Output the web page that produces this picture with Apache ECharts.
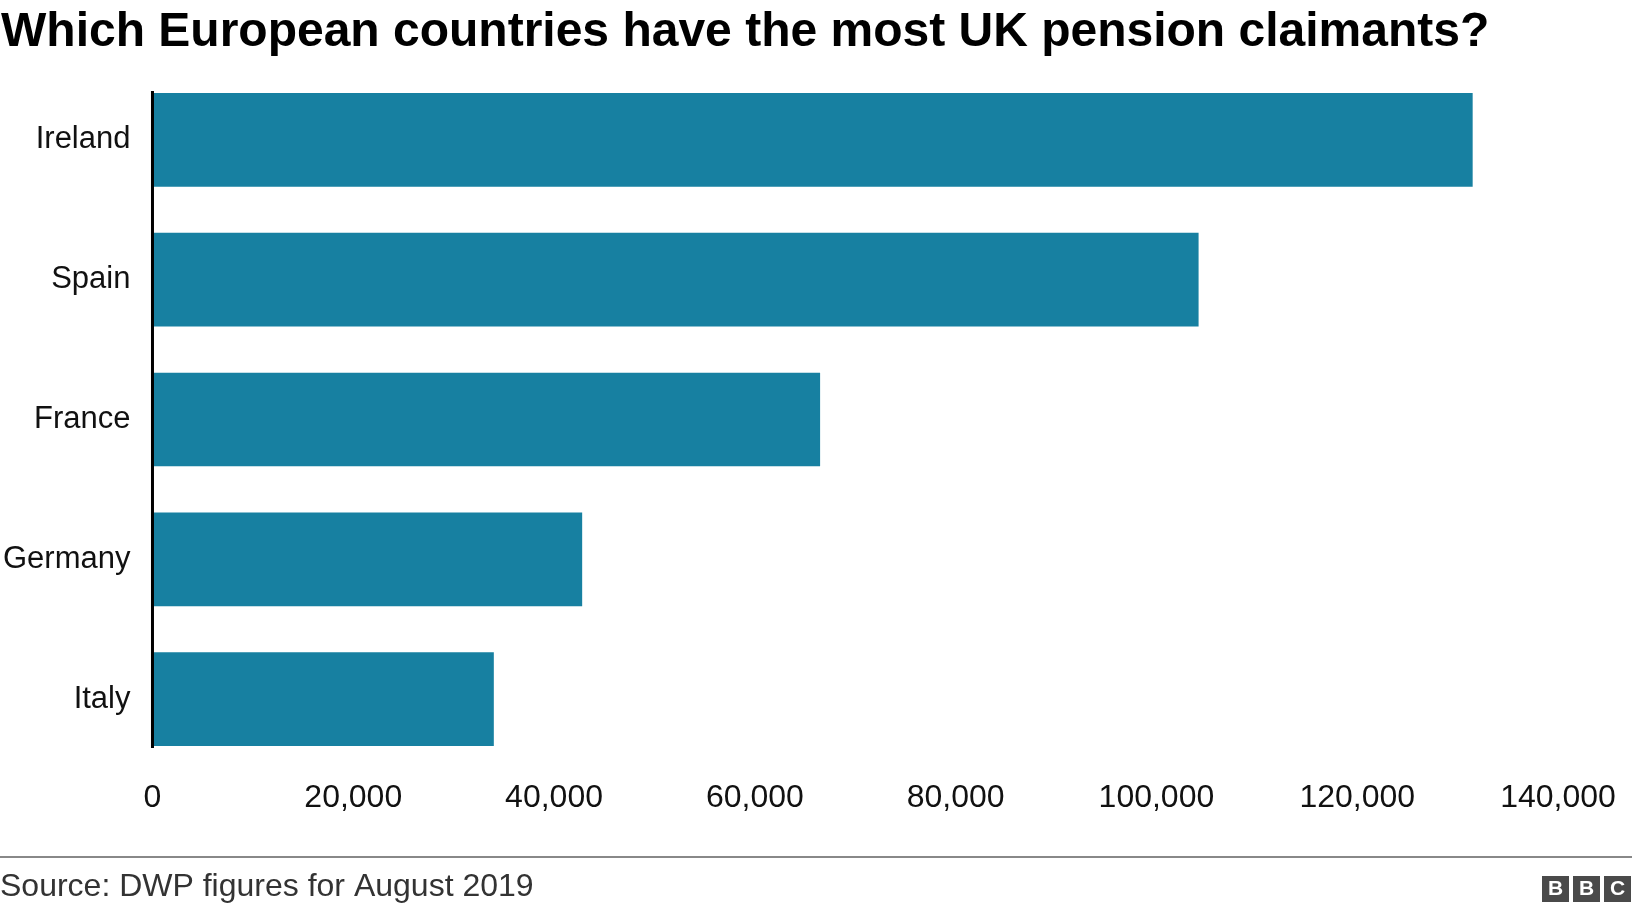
<!DOCTYPE html><html><head><meta charset="utf-8">
<script src="https://cdn.jsdelivr.net/npm/echarts@6/dist/echarts.min.js"></script>
<style>html,body{margin:0;padding:0;background:#fff}#c{width:1632px;height:912px}</style></head><body><div id="c"></div>
<script>
const categories = ['Ireland','Spain','France','Germany','Italy'];
const values = [131500, 104200, 66500, 42800, 34000];
const tickLabels = ['0','20,000','40,000','60,000','80,000','100,000','120,000','140,000'];
const chart = echarts.init(document.getElementById('c'));
const F = 'Liberation Sans, Arial, sans-serif';
const logo = ['B','B','C'].map((t,i)=>({type:'group',left:1542+i*31,top:876,children:[
  {type:'rect',shape:{x:0,y:0,width:27,height:26},style:{fill:'#4a4a4a'}},
  {type:'text',style:{x:13.5,y:13,text:t,fill:'#fff',font:'bold 21px '+F,align:'center',verticalAlign:'middle'}}]}));
chart.setOption({
  animation:false,
  title:{text:'Which European countries have the most UK pension claimants?',left:-4,top:4,
    textStyle:{fontFamily:F,fontWeight:'bold',fontSize:48,color:'#000'}},
  grid:{left:152,right:74,top:70,bottom:143},
  xAxis:{type:'value',min:0,max:140000,interval:20000,
    axisLabel:{fontFamily:F,fontSize:32,color:'#111',margin:13,formatter:(v)=>tickLabels[v/20000]},
    splitLine:{show:false},axisLine:{show:false},axisTick:{show:false}},
  yAxis:{type:'category',data:categories,inverse:true,
    axisLine:{show:false},axisTick:{show:false},
    axisLabel:{fontFamily:F,fontSize:31,color:'#111',margin:22}},
  series:[{type:'bar',data:values,barWidth:'67%',itemStyle:{color:'#1780a1'}}],
  graphic:[
    {type:'line',shape:{x1:0,y1:857,x2:1632,y2:857},style:{stroke:'#888',lineWidth:2}},
    {type:'text',left:0,top:871,style:{text:'Source: DWP figures for August 2019',font:'32px '+F,fill:'#333'}},
    ...logo]
});
const x0 = chart.convertToPixel({xAxisIndex:0},0);
const yTop = chart.convertToPixel({yAxisIndex:0},categories[0]);
const yBot = chart.convertToPixel({yAxisIndex:0},categories[categories.length-1]);
const half = 0.67*(yBot-yTop)/(categories.length-1)/2 + 2;
chart.setOption({graphic:[{id:'yline',type:'line',z:10,shape:{x1:x0,y1:yTop-half,x2:x0,y2:yBot+half},style:{stroke:'#000',lineWidth:3}}]});
</script></body></html>
